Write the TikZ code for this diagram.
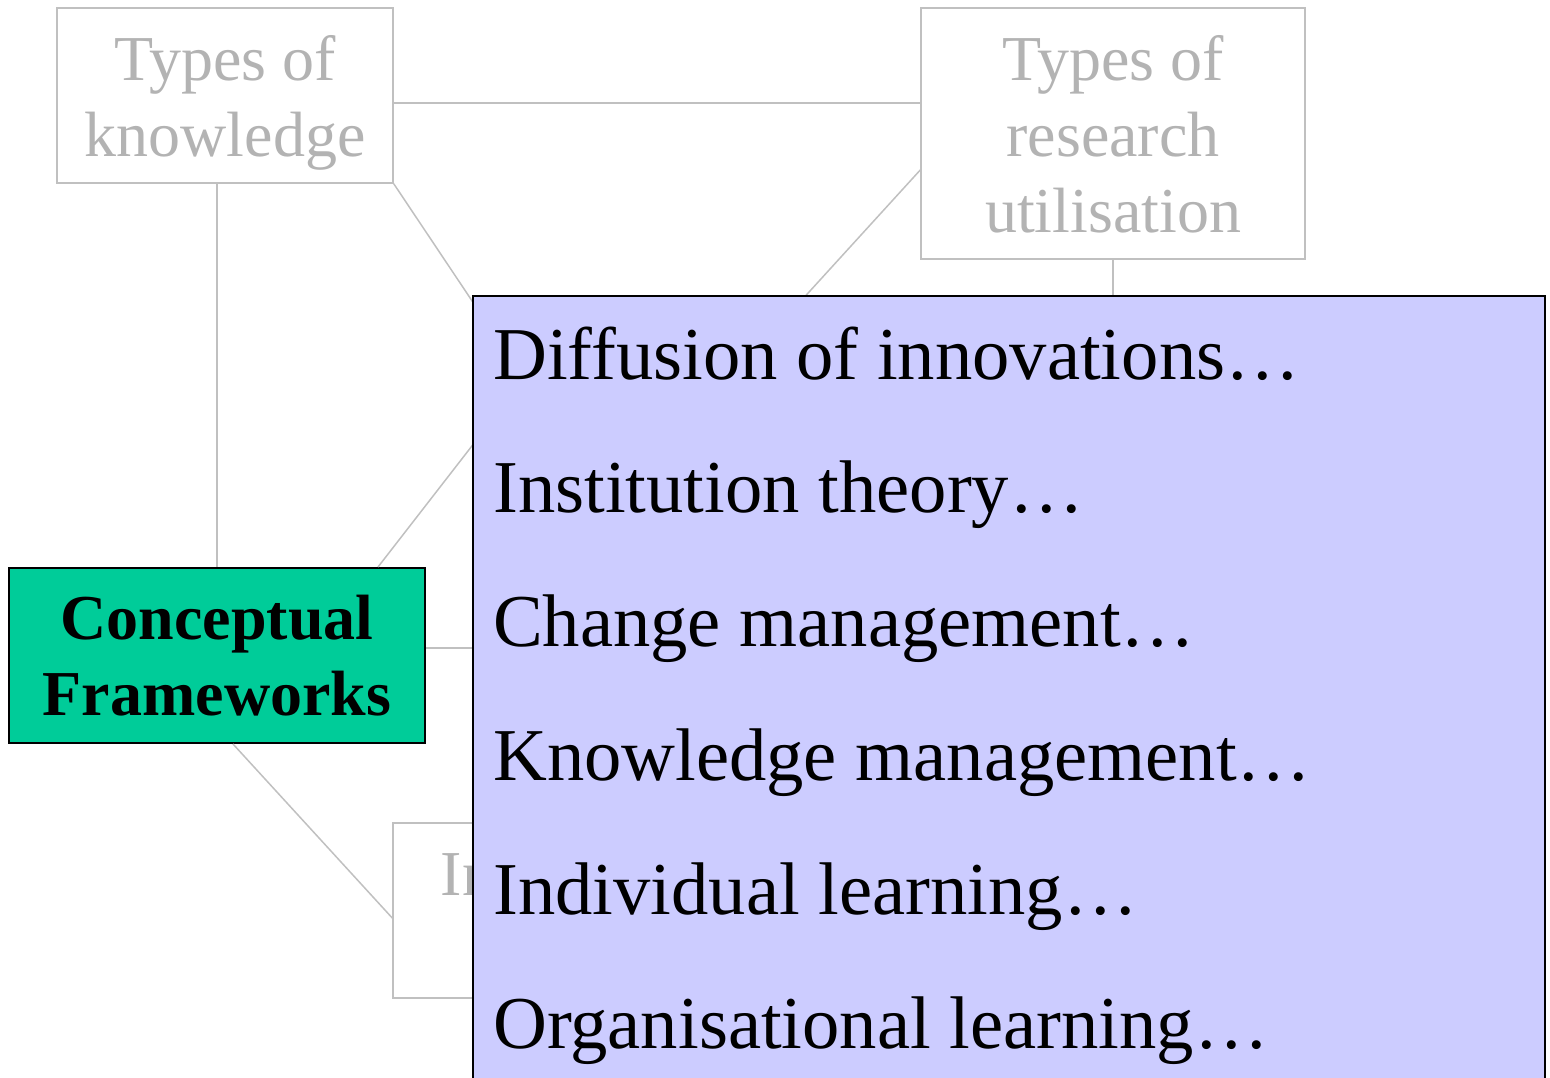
\documentclass[tikz,border=0pt]{standalone}
\usepackage{fontspec}
\setmainfont{Liberation Serif}
\usepackage{xcolor}
\usepackage{tikz}
\definecolor{cfgreen}{HTML}{00CC99}
\definecolor{listblue}{HTML}{CCCCFF}
\definecolor{fadegrey}{HTML}{B3B3B3}
\definecolor{edgegrey}{HTML}{C0C0C0}

\begin{document}
\begin{tikzpicture}[x=1pt,y=-1pt,
        topic/.style={draw=edgegrey,line width=1.5pt,text=fadegrey,align=center,inner sep=0pt,text depth=0pt,font=\fontsize{64}{76}\selectfont},
        focus/.style={draw=black,line width=2pt,fill=cfgreen,align=center,inner sep=0pt,text depth=0pt,font=\fontsize{64}{76}\selectfont\bfseries},
        link/.style={draw=edgegrey,line width=1.5pt},
        item/.style={anchor=base west,inner sep=0pt,font=\fontsize{74.6}{88}\selectfont}]
        \clip (0,0) rectangle (1550,1078);
        \node[topic,minimum width=336pt,minimum height=175pt] (know) at (225,95.5) {Types of\\knowledge};
        \node[topic,minimum width=384pt,minimum height=251pt] (util) at (1113,133.5) {Types of\\research\\utilisation};
        \node[focus,minimum width=416pt,minimum height=175pt] (frame) at (217,655.5) {Conceptual\\Frameworks};
        \node[topic,minimum width=336pt,minimum height=175pt] (inter) at (561,910.5) {};
        \node[topic,draw=none,anchor=base west] (intertext) at (440,895) {In};
        \coordinate (k1) at (547,413);
        \coordinate (r1) at (748,359);
        \coordinate (c1) at (520,384);
        \coordinate (c2) at (560,648);
        \coordinate (u1) at (1113,330);
        \draw[link] (know.east |- 0,103)--(util.west |- 0,103);
        \draw[link] (frame.north |- know.south)--(frame.north);
        \draw[link] (know.south east)--(k1);
        \draw[link] (util.west |- 0,170)--(r1);
        \draw[link] (frame.north -| 378,0)--(c1);
        \draw[link] (frame.east |- 0,648)--(c2);
        \draw[link] (frame.south -| 233,0)--(inter.west |- 0,918);
        \draw[link] (util.south)--(u1);
        \node[draw=black,line width=2pt,fill=listblue,minimum width=1072pt,minimum height=820pt,inner sep=0pt] (list) at (1009,706) {};
        \foreach \t [count=\i from 0] in {Diffusion of innovations…,Institution theory…,Change management…,Knowledge management…,Individual learning…,Organisational learning…}
            \node[item] (item\i) at (493,{379+133.8*\i}) {\t};
    \end{tikzpicture}
\end{document}
